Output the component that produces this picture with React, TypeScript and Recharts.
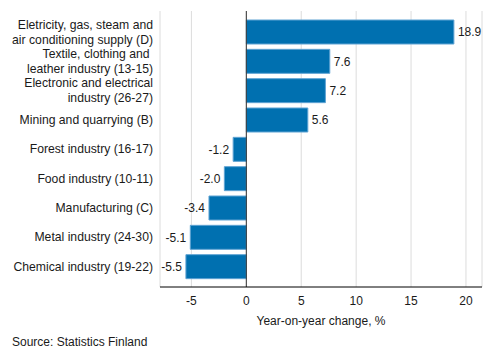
import React from "react"
import {
  BarChart,
  Bar,
  XAxis,
  YAxis,
  CartesianGrid,
  ReferenceLine,
  LabelList,
} from "recharts"

const categories = [
  "Eletricity, gas, steam and\nair conditioning supply (D)",
  "Textile, clothing and \nleather industry (13-15)",
  "Electronic and electrical\nindustry (26-27)",
  "Mining and quarrying (B)",
  "Forest industry (16-17)",
  "Food industry (10-11)",
  "Manufacturing (C)",
  "Metal industry (24-30)",
  "Chemical industry (19-22)",
]
const changes = [18.9, 7.6, 7.2, 5.6, -1.2, -2.0, -3.4, -5.1, -5.5]
const xTicks = [-5, 0, 5, 10, 15, 20]

const data = categories.map((name, i) => ({ name, value: changes[i] }))

const font = "'Liberation Sans', Arial, sans-serif"

function CategoryTick({ x, y, payload }: any) {
  const lines = String(payload.value).split("\n")
  const lh = 15
  const start = -((lines.length - 1) * lh) / 2
  return (
    <text
      x={x}
      y={y}
      textAnchor="end"
      fontSize={12.2}
      fontFamily={font}
      fill="#1a1a1a"
    >
      {lines.map((l, i) => (
        <tspan key={i} x={x} y={y + start + i * lh} dy="0.36em">
          {l}
        </tspan>
      ))}
    </text>
  )
}

function ValueLabel({ x, y, width, height, value }: any) {
  const left = Math.min(x, x + width)
  const right = Math.max(x, x + width)
  const pos = value >= 0
  return (
    <text
      x={pos ? right + 4 : left - 4}
      y={y + height / 2}
      dy="0.36em"
      textAnchor={pos ? "start" : "end"}
      fontSize={12}
      fontFamily={font}
      fill="#1a1a1a"
    >
      {Number(value).toFixed(1)}
    </text>
  )
}

export default function App() {
  return (
    <div
      style={{
        position: "absolute",
        left: 0,
        top: 0,
        width: 493,
        height: 360,
        background: "#fff",
        fontFamily: font,
      }}
    >
      <BarChart
        width={493}
        height={360}
        data={data}
        layout="vertical"
        margin={{ top: 11, right: 11, left: 0, bottom: 28 }}
      >
        <CartesianGrid horizontal={false} stroke="#dcdcdc" />
        <XAxis
          type="number"
          domain={[-7.86, 21.46]}
          ticks={xTicks}
          allowDataOverflow
          tickSize={0}
          tickMargin={9}
          axisLine={{ stroke: "#000" }}
          tick={{ fontSize: 12, fill: "#1a1a1a", fontFamily: font }}
          height={45}
          label={{
            value: "Year-on-year change, %",
            position: "insideBottom",
            offset: 7,
            fontSize: 12,
            fill: "#1a1a1a",
            fontFamily: font,
          }}
        />
        <YAxis
          type="category"
          dataKey="name"
          width={160}
          tickSize={0}
          tickMargin={7}
          axisLine={false}
          tick={<CategoryTick />}
          padding={{ top: 6, bottom: 6 }}
          interval={0}
        />
        <ReferenceLine x={0} stroke="#333" strokeWidth={1} />
        <Bar
          dataKey="value"
          fill="#0070b0"
          stroke="#5fa3d3"
          strokeWidth={1}
          barSize={24}
          isAnimationActive={false}
        >
          <LabelList dataKey="value" content={<ValueLabel />} />
        </Bar>
      </BarChart>
      <div
        style={{
          position: "absolute",
          left: 12,
          top: 335,
          fontSize: 12,
          color: "#1a1a1a",
        }}
      >
        Source: Statistics Finland
      </div>
    </div>
  )
}
